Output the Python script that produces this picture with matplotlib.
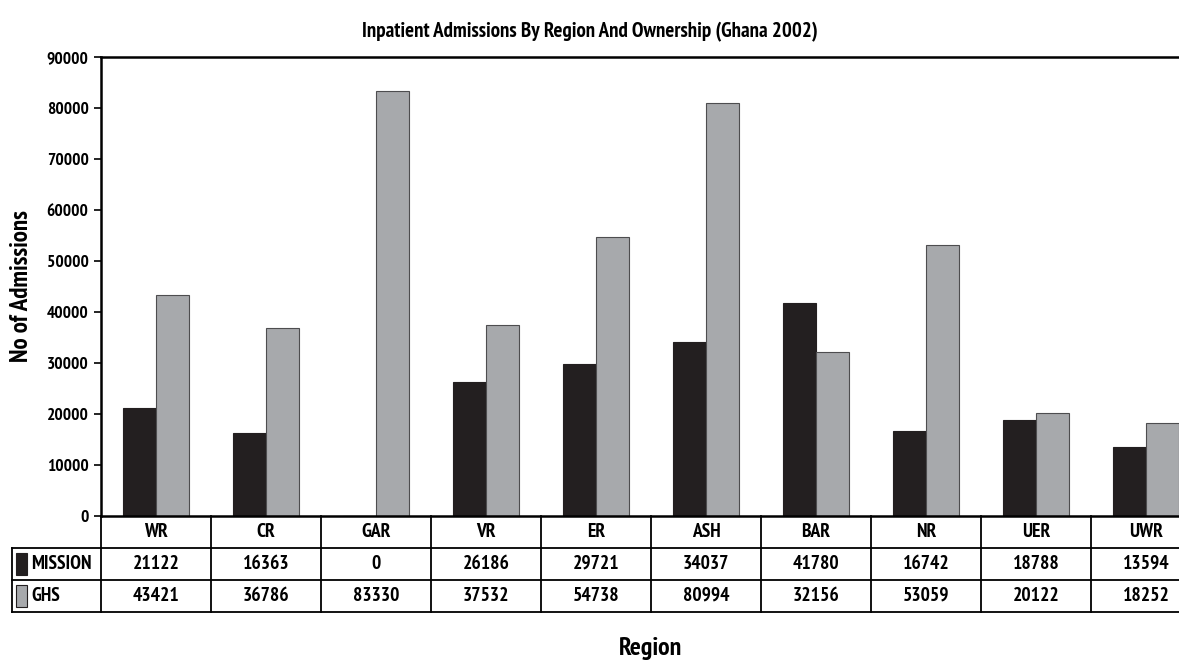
import matplotlib
matplotlib.use("Agg")
import matplotlib.pyplot as plt
import matplotlib.transforms as mtransforms
from matplotlib.patches import Rectangle
import numpy as np

plt.rcParams['font.family'] = ['PT Sans Narrow', 'Roboto Condensed', 'DejaVu Sans']
plt.rcParams['font.weight'] = 'bold'
plt.rcParams['axes.labelweight'] = 'bold'

# data
regions = ["WR", "CR", "GAR", "VR", "ER", "ASH", "BAR", "NR", "UER", "UWR"]
mission = [21122, 16363, 0, 26186, 29721, 34037, 41780, 16742, 18788, 13594]
ghs = [43421, 36786, 83330, 37532, 54738, 80994, 32156, 53059, 20122, 18252]
series_names = ["MISSION", "GHS"]
series_colors = ["#231f20", "#a7a9ac"]

W, H = 1179, 660
fig = plt.figure(figsize=(W / 100, H / 100), dpi=100)
# axes runs past the right edge like in the source image
left, right, top, bottom = 101, 1201, 57, 516
ax = fig.add_axes([left / W, 1 - bottom / H, (right - left) / W, (bottom - top) / H])

x = np.arange(len(regions))
bw = 0.3
ax.bar(x - bw / 2, mission, bw, color=series_colors[0], edgecolor="#231f20", linewidth=0.8)
ax.bar(x + bw / 2, ghs, bw, color=series_colors[1], edgecolor="#4d4d4f", linewidth=0.8)

ax.set_xlim(-0.5, len(regions) - 0.5)
ax.set_ylim(0, 90000)
ax.set_yticks(np.arange(0, 90001, 10000))
ax.tick_params(axis="y", labelsize=12.5, length=5, width=1.2, pad=4)
ax.set_xticks([])
ax.spines["right"].set_visible(False)
for s in ["left", "top", "bottom"]:
    ax.spines[s].set_linewidth(1.8)
ax.set_ylabel("No of Admissions", fontsize=18, labelpad=10)

fig.text(590 / W, 1 - 32 / H, "Inpatient Admissions By Region And Ownership (Ghana 2002)",
         ha="center", va="center", fontsize=15)
fig.text(650 / W, 1 - 648 / H, "Region", ha="center", va="center", fontsize=18.5)

# data table under the axes
trans = mtransforms.blended_transform_factory(ax.transData, ax.transAxes)
rh = 32 / (bottom - top)
y0 = 0.0
y1, y2, y3 = -rh, -2 * rh, -3 * rh
xl = (12 - left) / 110 - 0.5
lw = 1.3
kw = dict(transform=trans, color="black", linewidth=lw, clip_on=False)
for b in np.arange(-0.5, len(regions), 1.0):
    ax.plot([b, b], [y0, y3], **kw)
ax.plot([xl, xl], [y1, y3], **kw)
for yy in [y1, y2, y3]:
    ax.plot([xl, len(regions) - 0.5], [yy, yy], **kw)

fs = 14
for i, r in enumerate(regions):
    ax.text(i, (y0 + y1) / 2, r, transform=trans, ha="center", va="center", fontsize=fs)
    ax.text(i, (y1 + y2) / 2, str(mission[i]), transform=trans, ha="center", va="center", fontsize=fs)
    ax.text(i, (y2 + y3) / 2, str(ghs[i]), transform=trans, ha="center", va="center", fontsize=fs)

for k, (name, col) in enumerate(zip(series_names, series_colors)):
    ya = [y1, y2][k]
    yc = ya - rh / 2
    sq_w = 11 / 110
    ax.add_patch(Rectangle((xl + 4 / 110, yc - rh * 0.35), sq_w, rh * 0.7, transform=trans,
                           facecolor=col, edgecolor="#231f20", linewidth=0.8, clip_on=False))
    ax.text(xl + 19 / 110, yc, name, transform=trans, ha="left", va="center", fontsize=fs)

plt.savefig("out.png", dpi=100)
